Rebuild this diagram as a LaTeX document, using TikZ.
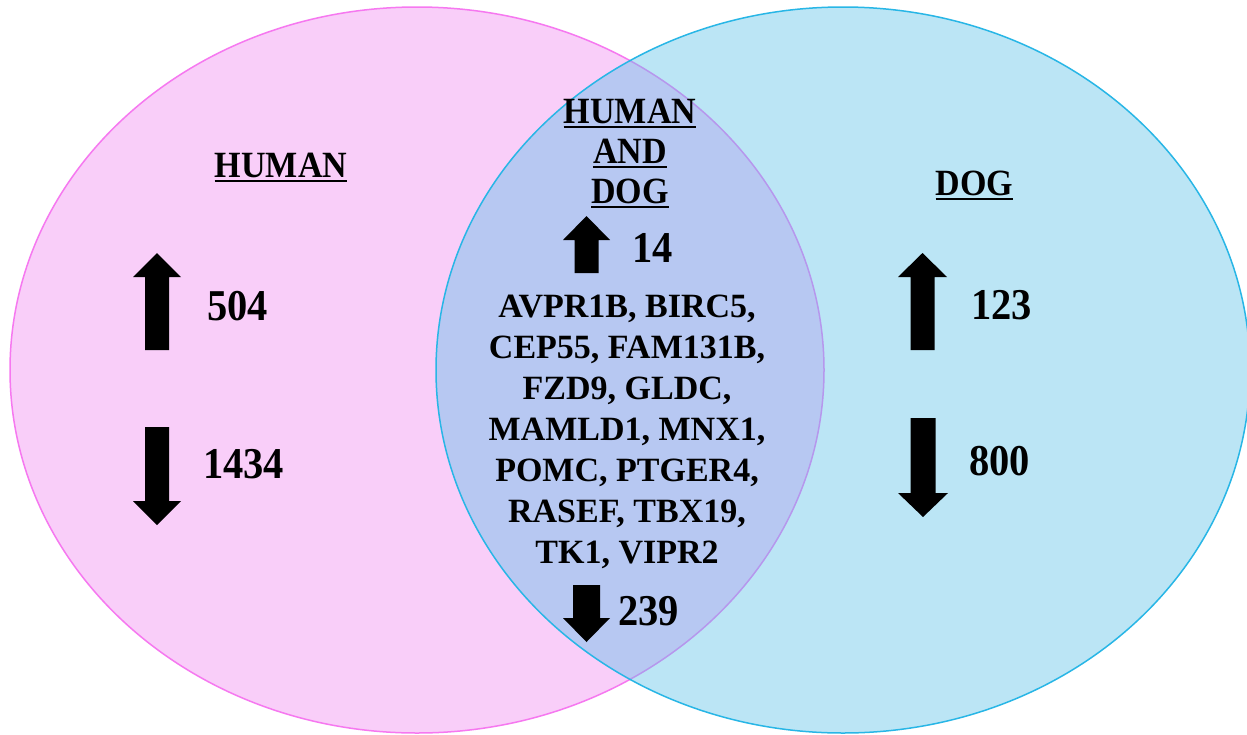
\documentclass[tikz,border=0pt]{standalone}
\usepackage{fontspec}
\setmainfont{Liberation Serif}
\newfontfamily\narrowserif[FakeStretch=0.92]{Liberation Serif}
\definecolor{pinkfill}{RGB}{249,206,249}
\definecolor{pinkline}{RGB}{246,120,240}
\definecolor{bluefill}{RGB}{94,194,233}
\definecolor{blueline}{RGB}{40,182,230}
\begin{document}
\begin{tikzpicture}[x=1pt,y=-1pt,
  num/.style={font=\narrowserif\bfseries\fontsize{44}{44}\selectfont, inner sep=0pt, anchor=base west},
  hdr/.style={font=\narrowserif\bfseries\fontsize{37}{37}\selectfont, inner sep=0pt, anchor=base},
  gene/.style={font=\bfseries\fontsize{34}{34}\selectfont, inner sep=0pt, anchor=base},
  uline/.style={line width=1.8pt, black},
  ring/.style={line width=1.5pt},
  pics/uparrow/.style args={#1/#2/#3}{code={
    \fill[black] (-#2,0) -- (-#2,-#1+24) -- (-#3,-#1+24) -- (0,-#1) -- (#3,-#1+24) -- (#2,-#1+24) -- (#2,0) -- cycle;}},
  pics/downarrow/.style args={#1/#2/#3}{code={
    \fill[black] (-#2,0) -- (-#2,#1-24) -- (-#3,#1-24) -- (0,#1) -- (#3,#1-24) -- (#2,#1-24) -- (#2,0) -- cycle;}}
]
\useasboundingbox (0,0) rectangle (1247,734);
\fill[white] (0,0) rectangle (1247,734);

% sets
\draw[ring, pinkline, fill=pinkfill] (417,370) ellipse [x radius=407, y radius=363];
\fill[bluefill, fill opacity=0.42] (843,370) ellipse [x radius=407, y radius=363];
\draw[ring, blueline] (843,370) ellipse [x radius=407, y radius=363];

% headers
\node[hdr] (hH) at (281,177) {HUMAN};
\node[hdr] (hD) at (974.5,195) {DOG};
\node[hdr] (hB1) at (630,123) {HUMAN};
\node[hdr] (hB2) at (630,163) {AND};
\node[hdr] (hB3) at (630,203) {DOG};
\foreach \n in {hH,hD,hB1,hB2,hB3}
  \draw[uline] ([yshift=-4pt]\n.base west) -- ([yshift=-4pt]\n.base east);

% human only
\pic at (157,350) {uparrow=97/12/24};
\node[num] (n504) at (207,320) {504};
\pic at (157,427) {downarrow=98/12/24};
\node[num] (n1434) at (203,478) {1434};

% dog only
\pic at (922.5,350) {uparrow=97/12/24.5};
\node[num] (n123) at (971,319) {123};
\pic at (923,418) {downarrow=99/12.5/25};
\node[num] (n800) at (969,475) {800};

% shared
\pic at (586.5,273) {uparrow=57/12/23.5};
\node[num] (n14) at (632,262) {14};
\node[gene] (g1) at (627,317) {AVPR1B, BIRC5,};
\node[gene] (g2) at (627,358) {CEP55, FAM131B,};
\node[gene] (g3) at (627,399) {FZD9, GLDC,};
\node[gene] (g4) at (627,440) {MAMLD1, MNX1,};
\node[gene] (g5) at (627,481) {POMC, PTGER4,};
\node[gene] (g6) at (627,522) {RASEF, TBX19,};
\node[gene] (g7) at (627,563) {TK1, VIPR2};
\pic at (586.5,585) {downarrow=57/13.5/23.5};
\node[num] (n239) at (618,625) {239};
\end{tikzpicture}
\end{document}
